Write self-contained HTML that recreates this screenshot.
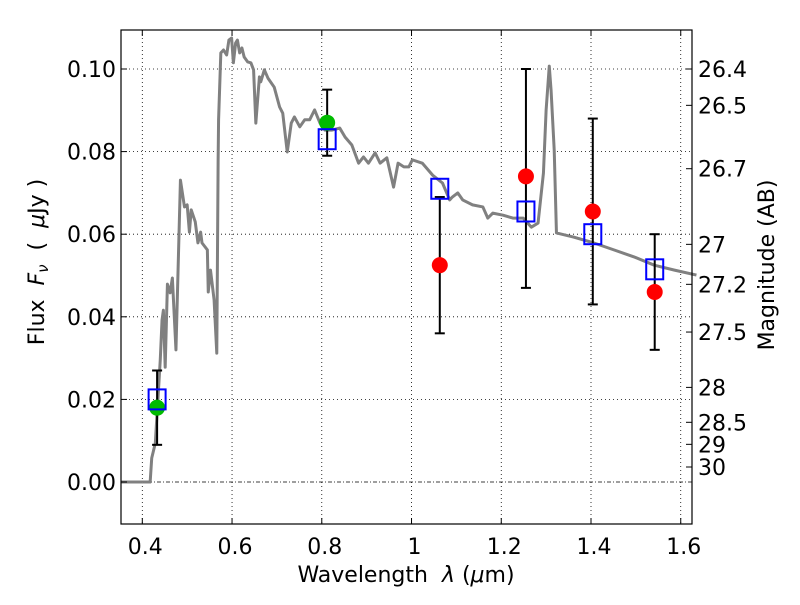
<!DOCTYPE html>
<html><head><meta charset="utf-8"><style>
body{margin:0;background:#fff;}
svg text{font-family:"DejaVu Sans","Liberation Sans",sans-serif;}
</style></head><body>
<svg id="chart" width="800" height="600" xmlns="http://www.w3.org/2000/svg">
<rect width="800" height="600" fill="#fff"/>
<g id="grid"></g>
<g id="spec"></g>
<g id="pts"></g>
<rect x="121" y="30" width="571" height="494" fill="none" stroke="#000" stroke-width="1.2"/>
<g id="axes"></g>
<text x="406" y="582" font-size="22" text-anchor="middle">Wavelength&#160;&#160;<tspan font-style="italic">λ</tspan> (<tspan font-style="italic">μ</tspan>m)</text>
<text transform="translate(44,262) rotate(-90)" font-size="22" text-anchor="middle">Flux&#160;&#160;<tspan font-style="italic">F<tspan font-size="15" dy="4">ν</tspan></tspan><tspan dy="-4">&#160;&#160;(&#160;&#160;</tspan><tspan font-style="italic">μ</tspan>Jy )</text>
<text transform="translate(774,265) rotate(-90)" font-size="22" text-anchor="middle">Magnitude (AB)</text>
</svg>
<script>
const xTicks=[0.4,0.6,0.8,1.0,1.2,1.4,1.6];
const xTickLabels=["0.4","0.6","0.8","1","1.2","1.4","1.6"];
const yTicks=[0,0.02,0.04,0.06,0.08,0.10];
const yTickLabels=["0.00","0.02","0.04","0.06","0.08","0.10"];
const magTicks=[26.4,26.5,26.7,27,27.2,27.5,28,28.5,29,30];
const magLabels=["26.4","26.5","26.7","27","27.2","27.5","28","28.5","29","30"];
const specWave=[0.352,0.4175,0.421,0.429,0.440,0.444,0.447,0.451,0.456,0.462,0.467,0.475,0.485,0.494,0.500,0.505,0.509,0.518,0.524,0.530,0.533,0.545,0.547,0.552,0.560,0.566,0.569,0.570,0.575,0.581,0.588,0.593,0.599,0.603,0.608,0.612,0.617,0.622,0.627,0.635,0.642,0.648,0.653,0.661,0.664,0.672,0.680,0.694,0.706,0.713,0.723,0.732,0.739,0.751,0.762,0.773,0.784,0.796,0.807,0.822,0.840,0.852,0.867,0.882,0.893,0.904,0.919,0.930,0.945,0.960,0.970,0.983,0.994,1.002,1.024,1.047,1.069,1.085,1.091,1.103,1.114,1.136,1.159,1.170,1.181,1.204,1.226,1.249,1.267,1.282,1.294,1.300,1.307,1.311,1.318,1.323,1.361,1.406,1.451,1.496,1.541,1.586,1.635];
const specFlux=[0,0,0.0058,0.0094,0.0295,0.0392,0.0416,0.0278,0.0479,0.0458,0.0494,0.0320,0.0731,0.0666,0.0671,0.0605,0.0659,0.0630,0.0579,0.0605,0.0579,0.0562,0.0460,0.0513,0.0441,0.0312,0.0780,0.0877,0.1039,0.1046,0.1034,0.1070,0.1075,0.1015,0.1063,0.1070,0.1039,0.1051,0.1029,0.1017,0.1015,0.0998,0.0869,0.0981,0.0969,0.0998,0.0978,0.0956,0.0908,0.0893,0.0799,0.0869,0.0884,0.0860,0.0877,0.0877,0.0901,0.0869,0.0852,0.0852,0.0857,0.0835,0.0816,0.0772,0.0787,0.0772,0.0797,0.0772,0.0785,0.0714,0.0772,0.0763,0.0763,0.0780,0.0772,0.0743,0.0724,0.0683,0.0690,0.0700,0.0683,0.0671,0.0666,0.0639,0.0651,0.0646,0.0639,0.0639,0.0617,0.0627,0.0748,0.0901,0.1007,0.0949,0.0804,0.0603,0.0593,0.0579,0.0562,0.0545,0.0525,0.0513,0.0501];
const obsWave=[0.433,0.812,1.063,1.255,1.404,1.542];
const obsFlux=[0.018,0.087,0.0525,0.074,0.0655,0.046];
const obsLow=[0.009,0.079,0.036,0.047,0.043,0.032];
const obsHigh=[0.027,0.095,0.069,0.100,0.088,0.060];
const obsColor=["#00bb00","#00bb00","#ff0000","#ff0000","#ff0000","#ff0000"];
const modelFlux=[0.020,0.083,0.071,0.0655,0.060,0.0515];

const NS="http://www.w3.org/2000/svg";
const X=v=>142.3+(v-0.4)*448.7;
const Y=v=>482-v*4130;
function mk(p,t,a){const e=document.createElementNS(NS,t);for(const k in a)e.setAttribute(k,a[k]);p.appendChild(e);return e;}
const grid=document.getElementById('grid'),axes=document.getElementById('axes'),spec=document.getElementById('spec'),pts=document.getElementById('pts');
xTicks.forEach((v,i)=>{
 const g=mk(grid,'line',{x1:X(v),x2:X(v),y1:30,y2:524,stroke:'#000','stroke-width':0.8,'stroke-dasharray':'1,3'});
 
 
 mk(axes,'line',{x1:X(v),x2:X(v),y1:524,y2:518,stroke:'#000'});
 mk(axes,'line',{x1:X(v),x2:X(v),y1:30,y2:36,stroke:'#000'});
 const t=mk(axes,'text',{x:X(v)+3,y:554,'font-size':22,'text-anchor':'middle'});t.textContent=xTickLabels[i];
 
 
});
yTicks.forEach((v,i)=>{
 const g=mk(grid,'line',{x1:121,x2:692,y1:Y(v),y2:Y(v),stroke:'#000','stroke-width':0.8,'stroke-dasharray':v===0?'4,2,1,2':'1,3'});
 
 
 mk(axes,'line',{x1:121,x2:127,y1:Y(v),y2:Y(v),stroke:'#000'});
 const t=mk(axes,'text',{x:116,y:Y(v)+8,'font-size':22,'text-anchor':'end'});t.textContent=yTickLabels[i];
 
 
});
magTicks.forEach((m,i)=>{
 const y=Y(Math.pow(10,(23.9-m)/2.5));
 mk(axes,'line',{x1:686,x2:692,y1:y,y2:y,stroke:'#000'});
 const t=mk(axes,'text',{x:698,y:y+8,'font-size':22});t.textContent=magLabels[i];
 
 
});
const p=mk(spec,'polyline',{points:specWave.map((w,i)=>X(w)+','+Y(specFlux[i])).join(' '),fill:'none',stroke:'#808080','stroke-width':3,'stroke-linejoin':'round'});


obsWave.forEach((w,i)=>{
 const x=X(w);
 const e=mk(pts,'g',{});
 
 
 mk(e,'line',{x1:x,x2:x,y1:Y(obsLow[i]),y2:Y(obsHigh[i]),stroke:'#000','stroke-width':2});
 mk(e,'line',{x1:x-5,x2:x+5,y1:Y(obsLow[i]),y2:Y(obsLow[i]),stroke:'#000','stroke-width':2});
 mk(e,'line',{x1:x-5,x2:x+5,y1:Y(obsHigh[i]),y2:Y(obsHigh[i]),stroke:'#000','stroke-width':2});
 const c=mk(pts,'circle',{cx:x,cy:Y(obsFlux[i]),r:8,fill:obsColor[i]});
 
 
 const r=mk(pts,'rect',{x:x-8.5,y:Y(modelFlux[i])-10,width:17,height:20,fill:'none',stroke:'#0000ff','stroke-width':2});
 
 
});
</script>
</body></html>
